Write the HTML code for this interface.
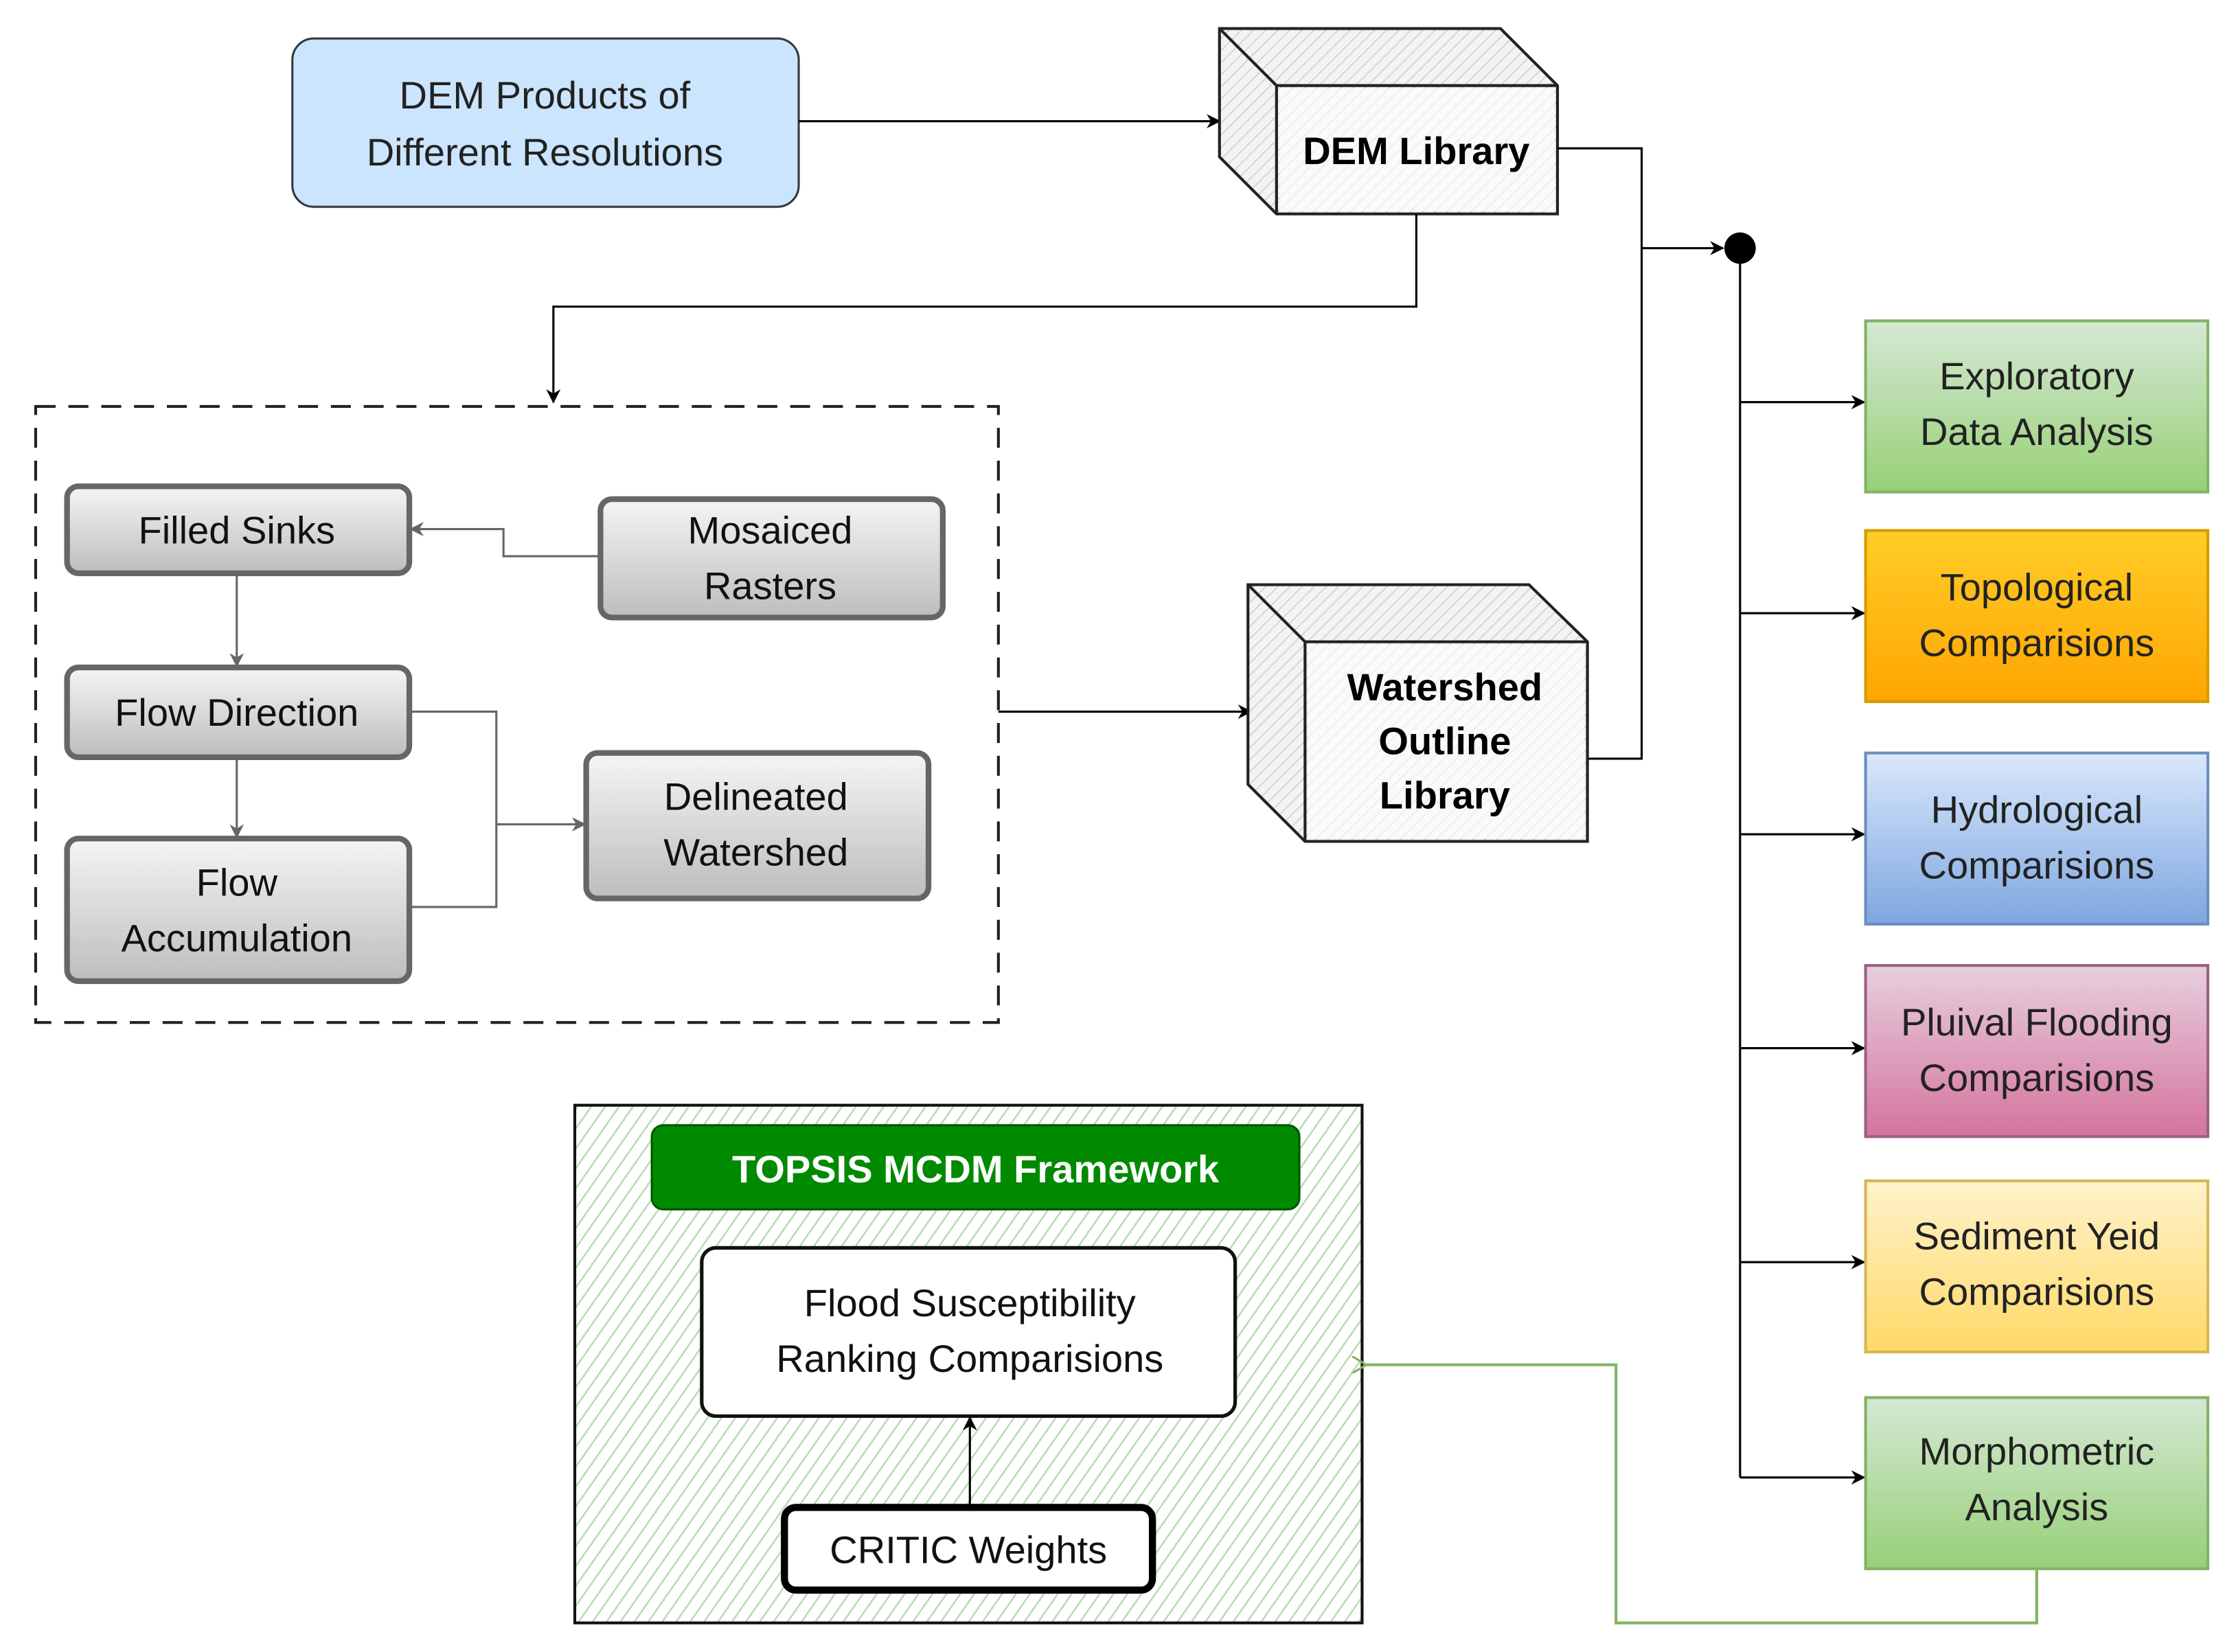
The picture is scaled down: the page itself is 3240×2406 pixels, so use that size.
<!DOCTYPE html>
<html><head><meta charset="utf-8"><style>html,body{margin:0;padding:0;background:#fff}svg{display:block}</style></head><body>
<svg width="3240" height="2406" viewBox="0 0 1560 1158.4" preserveAspectRatio="none" xmlns="http://www.w3.org/2000/svg" font-family="Liberation Sans, sans-serif">
<defs>
<linearGradient id="gray" x1="0" y1="0" x2="0" y2="1"><stop offset="0" stop-color="#f5f5f5"/><stop offset="1" stop-color="#bdbdbd"/></linearGradient>
<linearGradient id="gr" x1="0" y1="0" x2="0" y2="1"><stop offset="0" stop-color="#d5e8d4"/><stop offset="1" stop-color="#97d077"/></linearGradient>
<linearGradient id="or" x1="0" y1="0" x2="0" y2="1"><stop offset="0" stop-color="#ffcd28"/><stop offset="1" stop-color="#ffa500"/></linearGradient>
<linearGradient id="bl" x1="0" y1="0" x2="0" y2="1"><stop offset="0" stop-color="#dae8fc"/><stop offset="1" stop-color="#7ea6e0"/></linearGradient>
<linearGradient id="pk" x1="0" y1="0" x2="0" y2="1"><stop offset="0" stop-color="#e6d0de"/><stop offset="1" stop-color="#d5739d"/></linearGradient>
<linearGradient id="yl" x1="0" y1="0" x2="0" y2="1"><stop offset="0" stop-color="#fff2cc"/><stop offset="1" stop-color="#ffd966"/></linearGradient>
<pattern id="hatch" width="8" height="8" patternUnits="userSpaceOnUse" patternTransform="rotate(35)"><rect width="8" height="8" fill="#fff"/><line x1="0" y1="0" x2="0" y2="8" stroke="#b9dcb5" stroke-width="2.5"/></pattern>
<pattern id="hg" width="6" height="6" patternUnits="userSpaceOnUse" patternTransform="rotate(45)"><rect width="6" height="6" fill="#f3f3f3"/><line x1="0" y1="0" x2="0" y2="6" stroke="#cfcfcf" stroke-width="1.5"/></pattern>
<marker id="ab" markerWidth="10" markerHeight="10" refX="9" refY="5" orient="auto" markerUnits="userSpaceOnUse"><path d="M0,0 L10,5 L0,10 L3,5z" fill="#000"/></marker>
<marker id="ag" markerWidth="10" markerHeight="10" refX="9" refY="5" orient="auto" markerUnits="userSpaceOnUse"><path d="M0,0 L10,5 L0,10 L3,5z" fill="#666"/></marker>
<marker id="agr" markerWidth="12" markerHeight="12" refX="1" refY="6" orient="auto" markerUnits="userSpaceOnUse"><path d="M11,0 L1,6 L11,12" fill="none" stroke="#82b366" stroke-width="1.5"/></marker>
</defs>

<!-- DEM products -->
<rect x="205" y="27" width="355" height="118" rx="15" fill="#cce5ff" stroke="#36393d" stroke-width="1.5"/>
<text x="382" y="76" font-size="27" text-anchor="middle" fill="#222">DEM Products of</text>
<text x="382" y="116" font-size="27" text-anchor="middle" fill="#222">Different Resolutions</text>
<line x1="560" y1="85" x2="855" y2="85" stroke="#000" stroke-width="1.5" marker-end="url(#ab)"/>

<!-- DEM Library cube -->
<path d="M855,20 L1052,20 L1092,60 L1092,150 L895,150 L855,110 Z" fill="url(#hg)" stroke="#222" stroke-width="2"/>
<path d="M855,20 L895,60 L1092,60 M895,60 L895,150" fill="none" stroke="#222" stroke-width="2"/>
<rect x="897" y="62" width="193" height="86" fill="#fff" opacity="0.6"/>
<text x="993" y="115" font-size="27" font-weight="bold" text-anchor="middle">DEM Library</text>

<!-- connectors from DEM Library -->
<polyline points="1092,104 1151,104 1151,532 1113,532" fill="none" stroke="#000" stroke-width="1.5"/>
<line x1="1151" y1="174" x2="1208" y2="174" stroke="#000" stroke-width="1.5" marker-end="url(#ab)"/>
<circle cx="1220" cy="174" r="11" fill="#000"/>
<line x1="1220" y1="174" x2="1220" y2="1036" stroke="#000" stroke-width="1.5"/>
<g stroke="#000" stroke-width="1.5" marker-end="url(#ab)">
<line x1="1220" y1="282" x2="1307" y2="282"/>
<line x1="1220" y1="430" x2="1307" y2="430"/>
<line x1="1220" y1="585" x2="1307" y2="585"/>
<line x1="1220" y1="735" x2="1307" y2="735"/>
<line x1="1220" y1="885" x2="1307" y2="885"/>
<line x1="1220" y1="1036" x2="1307" y2="1036"/>
</g>
<polyline points="993,150 993,215 388,215 388,282" fill="none" stroke="#000" stroke-width="1.5" marker-end="url(#ab)"/>

<!-- right boxes -->
<g font-size="27" text-anchor="middle" fill="#222">
<rect x="1308" y="225" width="240" height="120" fill="url(#gr)" stroke="#82b366" stroke-width="2"/>
<text x="1428" y="273">Exploratory</text><text x="1428" y="312">Data Analysis</text>
<rect x="1308" y="372" width="240" height="120" fill="url(#or)" stroke="#d79b00" stroke-width="2"/>
<text x="1428" y="421">Topological</text><text x="1428" y="460">Comparisions</text>
<rect x="1308" y="528" width="240" height="120" fill="url(#bl)" stroke="#6c8ebf" stroke-width="2"/>
<text x="1428" y="577">Hydrological</text><text x="1428" y="616">Comparisions</text>
<rect x="1308" y="677" width="240" height="120" fill="url(#pk)" stroke="#996185" stroke-width="2"/>
<text x="1428" y="726">Pluival Flooding</text><text x="1428" y="765">Comparisions</text>
<rect x="1308" y="828" width="240" height="120" fill="url(#yl)" stroke="#d6b656" stroke-width="2"/>
<text x="1428" y="876">Sediment Yeid</text><text x="1428" y="915">Comparisions</text>
<rect x="1308" y="980" width="240" height="120" fill="url(#gr)" stroke="#82b366" stroke-width="2"/>
<text x="1428" y="1027">Morphometric</text><text x="1428" y="1066">Analysis</text>
</g>

<!-- dashed container -->
<rect x="25" y="285" width="675" height="432" fill="none" stroke="#222" stroke-width="2" stroke-dasharray="14,9"/>
<g fill="url(#gray)" stroke="#666" stroke-width="4">
<rect x="47" y="341" width="240" height="61" rx="8"/>
<rect x="421" y="350" width="240" height="83" rx="8"/>
<rect x="47" y="468" width="240" height="63" rx="8"/>
<rect x="47" y="588" width="240" height="100" rx="8"/>
<rect x="411" y="528" width="240" height="102" rx="8"/>
</g>
<g font-size="27" text-anchor="middle" fill="#111">
<text x="166" y="381">Filled Sinks</text>
<text x="540" y="381">Mosaiced</text><text x="540" y="420">Rasters</text>
<text x="166" y="509">Flow Direction</text>
<text x="166" y="628">Flow</text><text x="166" y="667">Accumulation</text>
<text x="530" y="568">Delineated</text><text x="530" y="607">Watershed</text>
</g>
<g fill="none" stroke="#666" stroke-width="1.5">
<polyline points="421,390 353,390 353,371 288,371" marker-end="url(#ag)"/>
<line x1="166" y1="402" x2="166" y2="467" marker-end="url(#ag)"/>
<line x1="166" y1="531" x2="166" y2="587" marker-end="url(#ag)"/>
<polyline points="287,499 348,499 348,636 287,636"/>
<line x1="348" y1="578" x2="410" y2="578" marker-end="url(#ag)"/>
</g>
<line x1="700" y1="499" x2="877" y2="499" stroke="#000" stroke-width="1.5" marker-end="url(#ab)"/>

<!-- Watershed cube -->
<path d="M875,410 L1072,410 L1113,450 L1113,590 L915,590 L875,550 Z" fill="url(#hg)" stroke="#222" stroke-width="2"/>
<path d="M875,410 L915,450 L1113,450 M915,450 L915,590" fill="none" stroke="#222" stroke-width="2"/>
<rect x="917" y="452" width="194" height="136" fill="#fff" opacity="0.6"/>
<g font-size="27" font-weight="bold" text-anchor="middle">
<text x="1013" y="491">Watershed</text><text x="1013" y="529">Outline</text><text x="1013" y="567">Library</text>
</g>

<!-- TOPSIS -->
<rect x="403" y="775" width="552" height="363" fill="url(#hatch)" stroke="#111" stroke-width="2"/>
<rect x="457" y="789" width="454" height="59" rx="8" fill="#008a00" stroke="#005700" stroke-width="1.5"/>
<text x="684" y="829" font-size="27" font-weight="bold" text-anchor="middle" fill="#fff">TOPSIS MCDM Framework</text>
<rect x="492" y="875" width="374" height="118" rx="10" fill="#fff" stroke="#111" stroke-width="2.5"/>
<text x="680" y="923" font-size="27" text-anchor="middle" fill="#111">Flood Susceptibility</text>
<text x="680" y="962" font-size="27" text-anchor="middle" fill="#111">Ranking Comparisions</text>
<rect x="550" y="1057" width="258" height="58" rx="8" fill="#fff" stroke="#000" stroke-width="5"/>
<text x="679" y="1096" font-size="27" text-anchor="middle" fill="#111">CRITIC Weights</text>
<line x1="680" y1="1057" x2="680" y2="994" stroke="#000" stroke-width="1.5" marker-end="url(#ab)"/>

<!-- green connector -->
<polyline points="1428,1100 1428,1138 1133,1138 1133,957 958,957" fill="none" stroke="#82b366" stroke-width="2" marker-end="url(#agr)"/>
</svg>
</body></html>
